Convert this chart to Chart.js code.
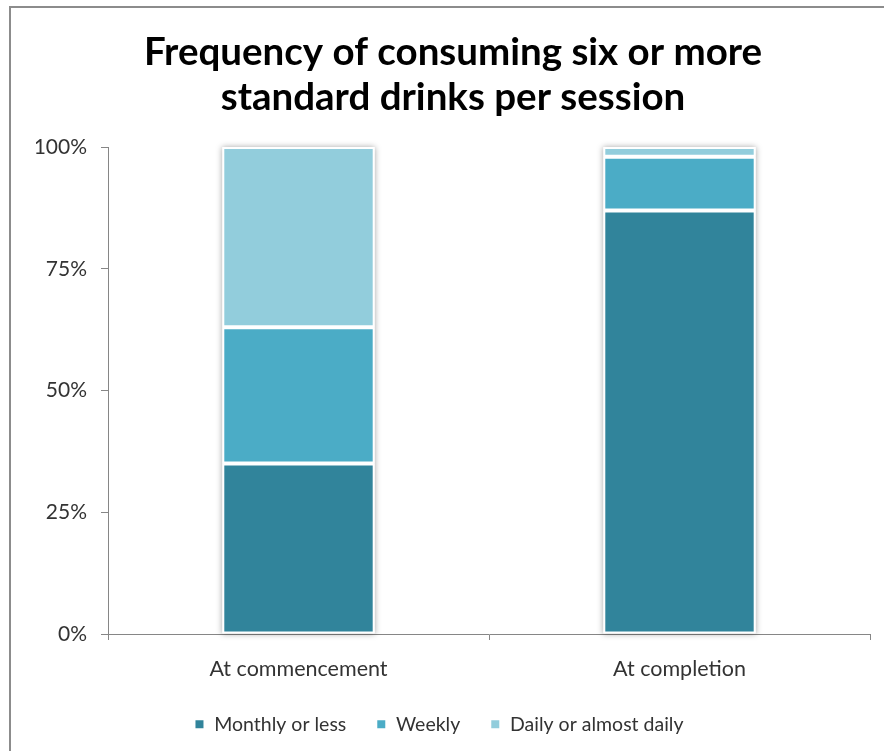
<!DOCTYPE html>
<html>
<head>
<meta charset="utf-8">
<title>Frequency of consuming six or more standard drinks per session</title>
<script src="https://cdn.jsdelivr.net/npm/chart.js@4.4.1/dist/chart.umd.min.js"></script>
<style>
    html, body { margin: 0; padding: 0; background: #fff; overflow: hidden; }
    #frame {
        position: absolute; left: 9px; top: 6px; width: 900px; height: 760px;
        border-top: 2px solid #8c8c8c; border-left: 2px solid #8c8c8c;
    }
    #chart-container { position: absolute; left: 0; top: 0; width: 884px; height: 751px; }
</style>
</head>
<body>
<div id="frame"></div>
<div id="chart-container"><canvas id="myChart"></canvas></div>
<script>
/*----------------------------------------------------------------------------*/
/* Data                                                                       */
/*----------------------------------------------------------------------------*/
const categories = ["At commencement", "At completion"];
const monthly_or_less = [35, 87];
const weekly = [28, 11];
const daily_or_almost_daily = [37, 2];
const y_ticks = [0, 25, 50, 75, 100];

const colours = ["#31849b", "#4bacc6", "#92cddc"];
const font_family = "Lato, 'Open Sans', sans-serif";

/*----------------------------------------------------------------------------*/
/* Plugins                                                                    */
/*----------------------------------------------------------------------------*/
// soft drop shadow behind each whole stacked column
const column_shadow = {
    id: "column_shadow",
    beforeDatasetsDraw(chart) {
        const ctx = chart.ctx;
        const first = chart.getDatasetMeta(0).data;
        const last = chart.getDatasetMeta(chart.data.datasets.length - 1).data;
        ctx.save();
        ctx.shadowColor = "rgba(0, 0, 0, 0.35)";
        ctx.shadowBlur = 6;
        ctx.fillStyle = "#fff";
        first.forEach(function (bar, i) {
            const top = last[i].y;
            const bottom = bar.base;
            ctx.fillRect(bar.x - bar.width / 2, top, bar.width, bottom - top);
        });
        ctx.restore();
    }
};

// legend sits a little left of the title's centre line
const legend_shift = {
    id: "legend_shift",
    afterLayout(chart) {
        chart.legend.left -= 14;
        chart.legend.right -= 14;
    }
};

/*----------------------------------------------------------------------------*/
/* Chart                                                                      */
/*----------------------------------------------------------------------------*/
const series = [
    { label: "Monthly or less", data: monthly_or_less },
    { label: "Weekly", data: weekly },
    { label: "Daily or almost daily", data: daily_or_almost_daily }
];

const data = {
    labels: categories,
    datasets: series.map(function (s, i) {
        return {
            label: s.label,
            data: s.data,
            backgroundColor: colours[i],
            borderColor: "#ffffff",
            borderWidth: 2,
            borderSkipped: false,
            categoryPercentage: 0.8,
            barPercentage: 0.5
        };
    })
};

const config = {
    type: "bar",
    data: data,
    plugins: [column_shadow, legend_shift],
    options: {
        responsive: true,
        maintainAspectRatio: false,
        animation: false,
        layout: { padding: { left: 36, right: 14, top: 0, bottom: 7 } },
        plugins: {
            title: {
                display: true,
                text: ["Frequency of consuming six or more", "standard drinks per session"],
                color: "#000",
                font: { family: font_family, size: 38.5, weight: "bold", lineHeight: 1.17 },
                padding: { top: 30, bottom: 27 }
            },
            legend: {
                position: "bottom",
                labels: {
                    color: "#333",
                    font: { family: font_family, size: 19.5 },
                    boxWidth: 10,
                    boxHeight: 10,
                    padding: 30
                }
            },
            tooltip: { enabled: false }
        },
        scales: {
            x: {
                stacked: true,
                afterFit: function (scale) { scale.height = 50.5; },
                border: { color: "#868686", width: 1 },
                grid: {
                    offset: true,
                    drawOnChartArea: false,
                    tickLength: 6,
                    color: "#868686"
                },
                ticks: {
                    color: "#333",
                    font: { family: font_family, size: 21.5 },
                    padding: 16
                }
            },
            y: {
                stacked: true,
                min: 0,
                max: 100,
                afterFit: function (scale) { scale.width = 72; },
                afterBuildTicks: function (scale) {
                    scale.ticks = y_ticks.map(function (v) { return { value: v }; });
                },
                border: { color: "#868686", width: 1 },
                grid: {
                    drawOnChartArea: false,
                    tickLength: 7,
                    color: "#868686"
                },
                ticks: {
                    color: "#333",
                    font: { family: font_family, size: 21 },
                    padding: 14,
                    callback: function (value) { return value + "%"; }
                }
            }
        }
    }
};

const ctx = document.getElementById("myChart").getContext("2d");
const myBarChart = new Chart(ctx, config);
</script>
</body>
</html>
